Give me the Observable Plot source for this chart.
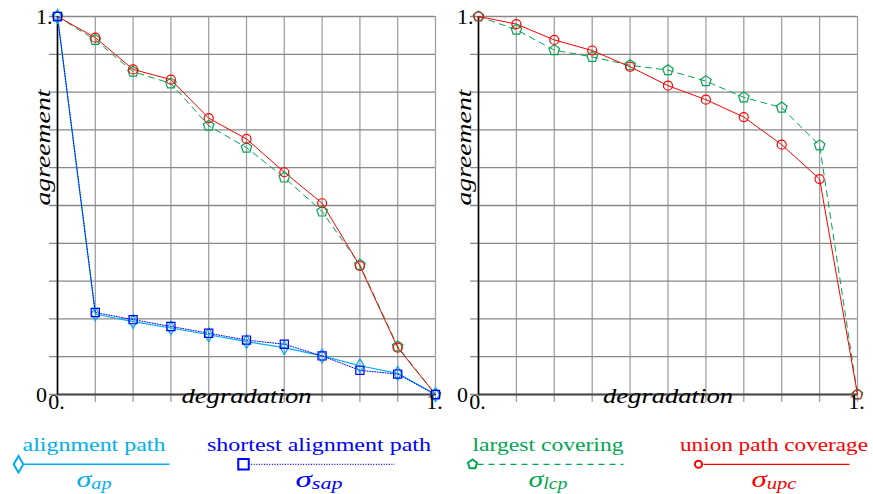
<!DOCTYPE html>
<html>
<head>
<meta charset="utf-8">
<script src="https://cdn.jsdelivr.net/npm/d3@7"></script>
<script src="https://cdn.jsdelivr.net/npm/@observablehq/plot@0.6"></script>
<style>
  html, body { margin: 0; padding: 0; background: #fff; }
  #wrap { position: relative; width: 873px; height: 494px; overflow: hidden; }
  #wrap > div, #wrap > svg { position: absolute; top: 0; }
</style>
</head>
<body>
<div id="wrap">
  <div id="p1" style="left:0px"></div>
  <div id="p2" style="left:436px"></div>
</div>
<script>
// ---- data ----
const degradation = [0, 0.1, 0.2, 0.3, 0.4, 0.5, 0.6, 0.7, 0.8, 0.9, 1.0];
const apLeft   = [1, 0.213, 0.193, 0.176, 0.158, 0.140, 0.124, 0.102, 0.076, 0.056, 0];
const sapLeft  = [1, 0.217, 0.198, 0.180, 0.162, 0.144, 0.133, 0.102, 0.064, 0.054, 0];
const lcpLeft  = [1, 0.938, 0.854, 0.823, 0.711, 0.653, 0.574, 0.484, 0.343, 0.127, 0];
const upcLeft  = [1, 0.944, 0.860, 0.833, 0.731, 0.676, 0.588, 0.506, 0.340, 0.124, 0];
const lcpRight = [1, 0.965, 0.911, 0.893, 0.871, 0.858, 0.829, 0.786, 0.759, 0.659, 0];
const upcRight = [1, 0.980, 0.938, 0.910, 0.867, 0.817, 0.780, 0.734, 0.661, 0.570, 0];
const gridTicks = [0, 0.1, 0.2, 0.3, 0.4, 0.5, 0.6, 0.7, 0.8, 0.9, 1.0];
const xTickLabels = ["0.", "1."];
const yTickLabels = ["0", "1."];
const seriesNames = ["alignment path", "shortest alignment path", "largest covering", "union path coverage"];
const seriesSubs = ["ap", "sap", "lcp", "upc"];

const COLORS = {ap: "#00aeef", sap: "#0000ff", lcp: "#00a651", upc: "#ff0000"};
const FONT = "Liberation Serif";

const pentagon = {
  draw(context, size) {
    const r = Math.sqrt(size / Math.PI) * 1.15;
    for (let i = 0; i < 5; i++) {
      const a = -Math.PI / 2 + i * 2 * Math.PI / 5;
      const px = r * Math.cos(a), py = r * Math.sin(a);
      if (i === 0) context.moveTo(px, py); else context.lineTo(px, py);
    }
    context.closePath();
  }
};

const STYLE = {
  ap:  {stroke: COLORS.ap,  strokeWidth: 1.2, dash: null,   symbol: "diamond", r: 4.2},
  sap: {stroke: COLORS.sap, strokeWidth: 1.0, dash: "1,1.6", symbol: "square", r: 4.6},
  lcp: {stroke: COLORS.lcp, strokeWidth: 1.0, dash: "6,5",  symbol: pentagon,  r: 4.8},
  upc: {stroke: COLORS.upc, strokeWidth: 1.0, dash: null,   symbol: "circle",  r: 4.5}
};

function rows(key, values) {
  return degradation.map((x, i) => ({x, y: values[i], key}));
}

function panel(series, width, marginLeft, marginRight) {
  const marks = [
    Plot.ruleX(gridTicks, {stroke: "#a0a0a0", strokeWidth: 1.3, insetBottom: -8}),
    Plot.ruleY(gridTicks, {stroke: "#888888", strokeWidth: 1.3, insetLeft: -8}),
    Plot.ruleY([0], {stroke: "#4a4a4a", strokeWidth: 2.2}),
    Plot.ruleX([0], {stroke: "#000", strokeWidth: 1.6})
  ];
  for (const [key, vals] of series) {
    const s = STYLE[key];
    marks.push(Plot.line(rows(key, vals), {x: "x", y: "y", stroke: s.stroke, strokeWidth: s.strokeWidth,
      strokeDasharray: s.dash || undefined}));
  }
  for (const [key, vals] of series) {
    const s = STYLE[key];
    marks.push(Plot.dot(rows(key, vals), {x: "x", y: "y", stroke: s.stroke, strokeWidth: 1.2, fill: "none",
      symbol: () => s.symbol, r: s.r}));
  }
  marks.push(
    Plot.text([0, 1], {x: d => d, frameAnchor: "bottom", dy: 14, dx: -1, text: (d, i) => xTickLabels[i],
      fontSize: 22, fontFamily: FONT, fill: "#000"}),
    Plot.text([0, 1], {y: d => d, frameAnchor: "left", dx: -21.5, dy: 0.5, textAnchor: "start", text: (d, i) => yTickLabels[i],
      fontSize: 22, fontFamily: FONT, fill: "#000"}),
    Plot.text(["degradation"], {frameAnchor: "bottom", dy: 8, text: d => d, fontSize: 22, fontFamily: FONT, fontStyle: "italic", fill: "#000"}),
    Plot.text(["agreement"], {frameAnchor: "left", dx: -15, rotate: -90, text: d => d, fontSize: 22, fontFamily: FONT, fontStyle: "italic", fill: "#000"})
  );
  const svg = Plot.plot({
    width, height: 420, marginLeft, marginRight, marginTop: 16, marginBottom: 26,
    x: {domain: [0, 1], axis: null},
    y: {domain: [0, 1], axis: null},
    style: {fontFamily: FONT, background: "transparent", overflow: "visible"},
    marks
  });
  d3.select(svg).selectAll("text").each(function() {
    const t = this.textContent;
    if (t === "degradation") d3.select(this).attr("textLength", 130).attr("lengthAdjust", "spacingAndGlyphs");
    if (t === "agreement") d3.select(this).attr("textLength", 116).attr("lengthAdjust", "spacingAndGlyphs");
  });
  return svg;
}

document.getElementById("p1").appendChild(
  panel([["lcp", lcpLeft], ["upc", upcLeft], ["ap", apLeft], ["sap", sapLeft]], 450, 57, 15));
document.getElementById("p2").appendChild(
  panel([["lcp", lcpRight], ["upc", upcRight]], 437, 42, 16));

// ---- legend ----
const legendItems = [
  {key: "ap",  cx: 94,  textW: 143, subW: 35},
  {key: "sap", cx: 319, textW: 224, subW: 47},
  {key: "lcp", cx: 548, textW: 151, subW: 39},
  {key: "upc", cx: 774, textW: 188, subW: 45}
];
const leg = d3.select("#wrap").append("svg")
  .attr("width", 873).attr("height", 74)
  .style("top", "420px").style("left", "0px");
legendItems.forEach((it, i) => {
  const s = STYLE[it.key];
  const g = leg.append("g");
  g.append("text").attr("x", it.cx).attr("y", 31).attr("text-anchor", "middle")
    .attr("font-family", FONT).attr("font-size", 19).attr("fill", s.stroke)
    .attr("textLength", it.textW).attr("lengthAdjust", "spacingAndGlyphs")
    .text(seriesNames[i]);
  const x0 = it.cx - 75.5, x1 = it.cx + 75.5, ly = 44.3;
  g.append("line").attr("x1", x0 + 5).attr("x2", x1).attr("y1", ly).attr("y2", ly)
    .attr("stroke", s.stroke).attr("stroke-width", it.key === "ap" ? 1.6 : 1.3)
    .attr("stroke-dasharray", s.dash || null);
  const sym = typeof s.symbol === "string"
    ? {diamond: d3.symbolDiamond, square: d3.symbolSquare, circle: d3.symbolCircle}[s.symbol]
    : s.symbol;
  const size = {ap: 80, sap: 110, lcp: 55, upc: 40}[it.key];
  g.append("path").attr("d", d3.symbol(sym, size)())
    .attr("transform", `translate(${x0},${ly})`)
    .attr("fill", "none").attr("stroke", s.stroke).attr("stroke-width", 2);
  const t = g.append("text").attr("x", it.cx).attr("y", 67).attr("text-anchor", "middle")
    .attr("font-family", FONT).attr("fill", s.stroke).attr("font-style", "italic")
    .attr("textLength", it.subW).attr("lengthAdjust", "spacingAndGlyphs");
  t.append("tspan").attr("font-size", 24).text("σ");
  t.append("tspan").attr("font-size", 16).attr("dy", 2).text(seriesSubs[i]);
});
</script>
</body>
</html>
